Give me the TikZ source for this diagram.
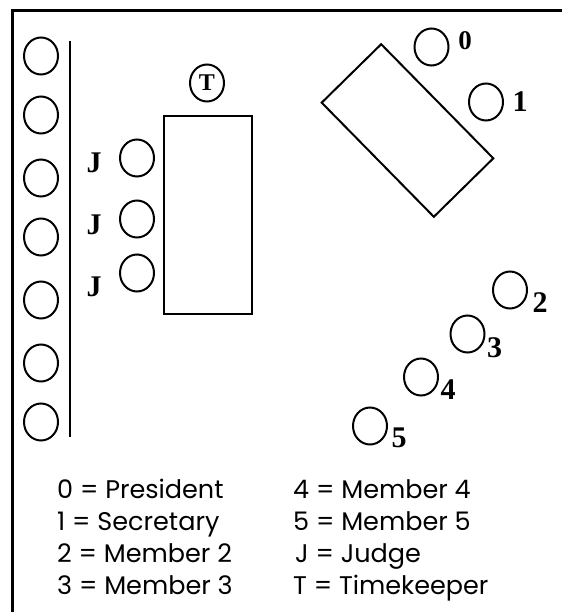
\documentclass[tikz,border=0pt]{standalone}
\usepackage{fontspec}
\setmainfont{Liberation Serif}
\newfontfamily\legendfont{Poppins}
\usetikzlibrary{shapes.geometric}
\begin{document}
\begin{tikzpicture}[x=1pt,y=-1pt,
  seat/.style={draw, ellipse, line width=2pt, minimum width=34pt, minimum height=37pt, inner sep=0pt},
  num/.style={font=\fontsize{30}{30}\selectfont\bfseries, inner sep=0pt},
  tbl/.style={draw, line width=2pt, rectangle, inner sep=0pt},
  legend/.style={font=\legendfont\fontsize{25.5}{30}\selectfont, anchor=base west, inner sep=0pt}]
\useasboundingbox (0,0) rectangle (562,612);
% frame
\draw[line width=3pt] (12,612) -- (12,11) -- (562,11);
% audience row
\foreach \y [count=\i] in {56,115,178,237,300,363,422}
  \node[seat] (L\i) at (41,\y) {};
\coordinate (dtop) at (70,41);
\coordinate (dbot) at (70,437);
\draw[line width=2pt] (dtop) -- (dbot);
% timekeeper
\node[seat, font=\fontsize{24}{24}\selectfont\bfseries] (T) at (207,83) {T};
% judges table
\node[tbl, minimum width=88pt, minimum height=198pt] (jt) at (208,215) {};
\node[seat] (J1) at (137,158) {};
\node[seat] (J2) at (137,219) {};
\node[seat] (J3) at (137,273) {};
\node[num] (J1l) at (94,163) {J};
\node[num] (J2l) at (94,225) {J};
\node[num] (J3l) at (94,287) {J};
% debate table
\node[tbl, minimum width=160pt, minimum height=83.4pt, rotate=-45.5] (rt) at (407.5,130.5) {};
% debaters
\node[seat] (S0) at (431.5,47) {};
\node[seat] (S1) at (486,102) {};
\node[seat] (S2) at (510,290) {};
\node[seat] (S3) at (467.5,334) {};
\node[seat] (S4) at (421,377) {};
\node[seat] (S5) at (370,426) {};
\node[num, font=\fontsize{27}{27}\selectfont\bfseries] (S0l) at (465,41) {0};
\node[num] (S1l) at (520,102) {1};
\node[num] (S2l) at (540,303) {2};
\node[num] (S3l) at (494.5,348) {3};
\node[num] (S4l) at (448,390) {4};
\node[num] (S5l) at (399,438) {5};
% legend
\node[legend] (g0) at (57,498) {0 = President};
\node[legend] (g1) at (57,530) {1 = Secretary};
\node[legend] (g2) at (57,562) {2 = Member 2};
\node[legend] (g3) at (57,594) {3 = Member 3};
\node[legend] (g4) at (293,498) {4 = Member 4};
\node[legend] (g5) at (293,530) {5 = Member 5};
\node[legend] (gJ) at (295,562) {J = Judge};
\node[legend] (gT) at (293,594) {T = Timekeeper};
\end{tikzpicture}
\end{document}
